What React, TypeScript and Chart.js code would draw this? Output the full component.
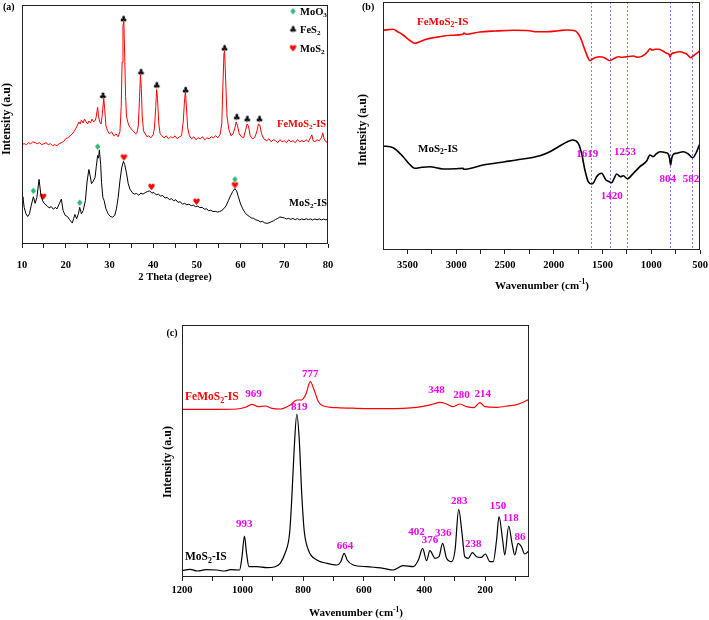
import React, { useEffect, useRef } from 'react';
import { Chart, registerables } from 'chart.js';
Chart.register(...registerables);

const SERIF = '"Liberation Serif", "Times New Roman", serif';
const RED = '#ff0000';
const MAGENTA = '#ee00ee';
const GREEN = '#2bb673';

// ---------------- Panel (a): XRD ----------------
const A_TICKS = [10, 15, 20, 25, 30, 35, 40, 45, 50, 55, 60, 65, 70, 75, 80];
const A_TICK_LABELS = [10, 20, 30, 40, 50, 60, 70, 80];
const A_FEMOS2: [number, number][] = [
  [10, 101], [10.5, 102], [11, 101], [11.5, 103], [12, 102], [12.5, 104], [13, 103], [13.5, 102], [14, 103], [14.5, 101],
  [15, 102], [15.5, 103], [16, 101], [16.5, 102], [17, 100], [17.5, 101], [18, 100], [18.5, 102], [19, 103], [19.5, 104],
  [20, 107], [20.5, 108], [21, 110], [21.5, 112], [22, 115], [22.5, 119], [23, 124], [23.3, 122], [23.6, 126], [24, 123],
  [24.3, 127], [24.7, 124], [25, 122], [25.3, 125], [25.7, 123], [26, 127], [26.4, 124], [26.8, 126], [27, 130], [27.3, 139],
  [27.5, 130], [27.8, 124], [28.1, 122], [28.4, 133], [28.7, 148], [28.9, 138], [29.2, 120], [29.6, 115], [30, 112], [30.5, 114],
  [31, 110], [31.5, 112], [32, 109], [32.4, 114], [32.7, 140], [32.9, 185], [33.1, 222], [33.3, 226], [33.5, 190], [33.7, 150],
  [33.9, 130], [34.2, 124], [34.5, 120], [34.8, 118], [35.2, 116], [35.6, 114], [36, 112], [36.3, 113], [36.6, 120], [36.9, 150],
  [37.1, 172], [37.3, 158], [37.5, 130], [37.8, 115], [38.2, 112], [38.6, 109], [39, 110], [39.5, 108], [40, 111], [40.3, 118],
  [40.6, 140], [40.8, 157], [41, 148], [41.3, 122], [41.6, 112], [42, 110], [42.5, 108], [43, 110], [43.5, 107], [44, 109],
  [44.5, 108], [45, 110], [45.5, 107], [46, 109], [46.5, 110], [46.9, 125], [47.2, 148], [47.4, 155], [47.6, 140], [47.9, 118],
  [48.3, 110], [48.8, 107], [49.3, 109], [49.8, 106], [50.3, 108], [50.8, 107], [51.3, 109], [51.8, 106], [52.3, 108], [52.8, 107],
  [53.3, 109], [53.8, 108], [54.3, 110], [54.8, 108], [55.3, 111], [55.7, 122], [55.95, 160], [56.2, 194], [56.35, 196], [56.6, 165],
  [56.9, 130], [57.3, 117], [57.8, 110], [58.3, 112], [58.7, 118], [59, 124], [59.3, 120], [59.7, 112], [60.2, 109], [60.7, 108],
  [61.1, 115], [61.5, 122], [61.8, 120], [62.2, 110], [62.7, 107], [63.2, 108], [63.7, 114], [64.1, 122], [64.4, 121], [64.8, 112],
  [65.3, 107], [66, 105], [66.5, 107], [67, 104], [67.5, 106], [68, 105], [68.5, 103], [69, 106], [69.5, 104], [70, 105],
  [70.5, 103], [71, 106], [71.5, 104], [72, 105], [72.5, 103], [73, 106], [73.5, 104], [74, 105], [74.5, 104], [75, 106],
  [75.5, 104], [76, 108], [76.3, 111], [76.6, 105], [77, 104], [77.5, 106], [78, 105], [78.5, 108], [78.8, 113], [79.1, 107],
  [79.5, 104], [80, 103],
];
const A_MOS2: [number, number][] = [
  [10, 45.7], [10.2, 48], [10.5, 37.3], [10.9, 30.7], [11.3, 28], [11.7, 30.7], [12.1, 39], [12.6, 48], [13, 41.3], [13.4, 47.3],
  [13.9, 65.7], [14.3, 50.7], [14.7, 44], [15.2, 40.7], [15.7, 39], [16.2, 36.7], [16.7, 38], [17.2, 35.3], [17.6, 37.3], [18, 35.7],
  [18.5, 40.7], [19, 45.7], [19.4, 34], [19.9, 29], [20.4, 28], [20.9, 24.7], [21.5, 21.3], [21.8, 25.7], [22.1, 30], [22.5, 25.7],
  [22.9, 30.7], [23.2, 37.3], [23.6, 30.7], [24, 34], [24.5, 44], [24.9, 64], [25.3, 75.7], [25.6, 69], [25.9, 61.3], [26.3, 64],
  [26.7, 67.3], [27, 79], [27.3, 90], [27.5, 87.3], [27.7, 95.7], [28, 80.7], [28.2, 62.3], [28.5, 47.3], [28.8, 44], [29.2, 35.7],
  [29.7, 30.7], [30.2, 28], [30.7, 27.3], [31.2, 29], [31.6, 35.7], [32, 47.3], [32.4, 64], [32.8, 77.3], [33.2, 84], [33.5, 80.7],
  [33.9, 72.3], [34.3, 61.3], [34.7, 55.7], [35.2, 52.3], [35.7, 50.7], [36.2, 51.3], [36.7, 49.7], [37.2, 51.7], [37.7, 50.7], [38.2, 52.3],
  [38.7, 53.3], [39.2, 54], [39.7, 51.7], [40.2, 52.3], [40.7, 50], [41.2, 50.7], [41.7, 48.7], [42.2, 49.3], [42.7, 46.7], [43.2, 47.3],
  [43.7, 45.3], [44.2, 46], [44.7, 44], [45.2, 45], [45.7, 42.3], [46.2, 43], [46.7, 40.5], [47.2, 41.3], [47.7, 40], [48.2, 40.5],
  [48.7, 39], [49.2, 39.5], [49.7, 38], [50.2, 38.5], [50.7, 37], [51.2, 37.3], [51.7, 35.5], [52.2, 35.7], [52.7, 34], [53.2, 34.3],
  [53.7, 33], [54.2, 33.2], [54.7, 32.5], [55.2, 33], [55.7, 34], [56.2, 36], [56.7, 39], [57.2, 44], [57.7, 49], [58.2, 53.3],
  [58.7, 56.3], [59.1, 54], [59.5, 48], [60, 40.7], [60.5, 35.7], [61, 32], [61.5, 29.5], [62, 28], [62.5, 26.5], [63, 26],
  [63.5, 24.5], [64, 24], [64.5, 22.5], [65, 23], [65.5, 21.5], [66, 21], [66.5, 21.5], [67, 22.5], [67.5, 23.5], [68, 25],
  [68.5, 26], [69, 27.5], [69.5, 27], [70, 26.5], [70.5, 25.5], [71, 26], [71.5, 25], [72, 26], [72.5, 24.7], [73, 25.8],
  [73.5, 24.5], [74, 25.5], [74.5, 24.6], [75, 25.7], [75.5, 24.8], [76, 25.5], [76.5, 24.4], [77, 25.4], [77.5, 24.6], [78, 25.5],
  [78.5, 24.5], [79, 25.3], [79.5, 24.6], [80, 25],
];
const A_MOO3_MARKS: [number, number][] = [[12.6, 53.3], [23.2, 41.3], [27.3, 98.3], [58.7, 65]];
const A_MOS2_MARKS: [number, number][] = [[14.8, 47.3], [33.3, 87.3], [39.6, 57.3], [49.9, 42.3], [58.7, 59]];
const A_FES2_MARKS: [number, number][] = [
  [28.5, 150], [33.2, 228], [37.2, 174], [40.8, 160.7], [47.4, 155.7], [56.3, 198.3], [59.1, 128.3], [61.5, 126.3], [64.3, 126.3],
];
const A_LEGEND = ['MoO_{3}', 'FeS_{2}', 'MoS_{2}'];

// ---------------- Panel (b): FTIR ----------------
const B_TICKS = [500, 750, 1000, 1250, 1500, 1750, 2000, 2250, 2500, 2750, 3000, 3250, 3500];
const B_TICK_LABELS = [500, 1000, 1500, 2000, 2500, 3000, 3500];
const B_FEMOS2: [number, number][] = [
  [3750, 219.7], [3646, 220.7], [3600, 218.3], [3544, 215], [3480, 210], [3425, 206.7], [3380, 208], [3305, 210.7], [3168, 213.3],
  [3050, 214.7], [2929, 215.7], [2920, 216.9], [2900, 215.7], [2757, 218], [2600, 219], [2415, 219.7], [2250, 219.3], [2176, 218.3],
  [2073, 218.3], [1950, 219.3], [1868, 220], [1783, 219.3], [1731, 213.3], [1680, 200], [1650, 192.7], [1629, 189.3], [1600, 191],
  [1577, 192.3], [1526, 193.3], [1480, 192.3], [1424, 189.3], [1390, 191], [1355, 192.7], [1338, 193.3], [1303, 192.7], [1252, 193.3],
  [1183, 194], [1133, 192.7], [1064, 195.7], [1030, 199.3], [1013, 201.3], [990, 200], [962, 200.7], [927, 200.7], [880, 199],
  [842, 196.7], [815, 195.3], [808, 192.7], [795, 195.7], [760, 197.3], [705, 198.3], [670, 197.3], [636, 196], [595, 192.3],
  [570, 194], [534, 196.7], [500, 199.3],
];
const B_MOS2: [number, number][] = [
  [3750, 104], [3646, 102.3], [3544, 93.3], [3480, 86], [3425, 81.7], [3350, 82.7], [3271, 83.3], [3134, 81], [3000, 81.3],
  [2929, 81.7], [2920, 80.7], [2724, 85], [2500, 88.3], [2382, 90], [2142, 94.3], [2039, 98.3], [1902, 106], [1806, 110],
  [1748, 106.7], [1714, 96.7], [1680, 80], [1646, 68.3], [1611, 66], [1585, 68.3], [1560, 73.3], [1509, 76.7], [1464, 70],
  [1430, 68.3], [1406, 67.3], [1380, 71.7], [1355, 76], [1314, 73.3], [1286, 74.3], [1245, 71.3], [1183, 76.7], [1116, 83.3],
  [1047, 89], [1013, 95], [979, 93.3], [951, 96], [910, 98.3], [849, 97.3], [825, 96], [812, 91.7], [801, 85], [790, 91.7],
  [770, 96], [740, 96.7], [671, 98.3], [620, 96], [575, 92.3], [534, 98.3], [507, 105], [500, 106],
];
const B_PEAKS = [1619, 1420, 1253, 804, 582];
const B_PEAK_LABELS = ['1619', '1253', '1420', '804', '582'];
const B_PEAK_LABEL_AT: [number, number][] = [[1656, 96], [1270, 98], [1406, 54], [831, 71], [592, 71]];

// ---------------- Panel (c): Raman ----------------
const C_TICKS = [1200, 1100, 1000, 900, 800, 700, 600, 500, 400, 300, 200, 100];
const C_TICK_LABELS = [1200, 1000, 800, 600, 400, 200];
const C_FEMOS2: [number, number][] = [
  [1200, 167.7], [1085, 167.7], [1019, 168], [991, 169.7], [969, 172.7], [948, 170.3], [926, 171], [903, 168.7], [876, 168],
  [843, 172], [821, 177], [805, 177], [790, 183.7], [777, 195.3], [764, 187], [750, 175.3], [733, 171], [689, 169.3],
  [623, 168.7], [536, 168.3], [470, 168.7], [426, 169.7], [393, 171.3], [371, 173], [349, 174.7], [327, 173], [305, 170.3],
  [283, 173], [261, 170.3], [237, 169.3], [217, 174.3], [201, 170.3], [162, 169.7], [118, 171.3], [96, 172.3], [74.5, 174.7],
  [55, 177.7],
];
const C_MOS2: [number, number][] = [
  [1200, 6.3], [1173, 7.7], [1150, 6], [1120, 7.3], [1085, 7], [1060, 6], [1040, 7.3], [1010, 7], [1002, 20.3], [994, 41],
  [987, 23.7], [979, 10.3], [953, 10.3], [920, 9.3], [893, 10.3], [876, 13.7], [860, 23.7], [845, 43.7], [838, 77], [830, 127],
  [821, 163], [813, 137], [805, 83.7], [797, 47], [783, 27], [755, 17], [722, 13.7], [689, 12], [676, 15.3], [665, 23.7],
  [655, 17], [635, 12], [590, 10.3], [536, 8.7], [503, 7], [470, 11.3], [437, 10.3], [420, 17], [406, 28.7], [393, 16.3],
  [382, 26.3], [365, 18.7], [352, 20.3], [340, 33.7], [327, 18.7], [310, 15.3], [299, 27], [287, 67.7], [276, 43.7], [267, 20.3],
  [255, 18.7], [242, 24.3], [228, 20.3], [212, 19.7], [199, 23], [184, 15.3], [173, 15.3], [162, 37], [154, 60.3], [142, 37],
  [135, 22], [122, 51], [111, 33.7], [102, 22], [91, 33.7], [80, 30.3], [69, 23], [55, 26.3],
];
const C_PEAK_LABELS = ['969', '777', '819', '348', '280', '214', '993', '664', '402', '376', '336', '283', '238', '150', '118', '86'];
const C_PEAK_LABEL_AT: [number, number][] = [
  [964, 182.7], [777, 203], [813, 170.3], [360, 187], [277.5, 182], [208, 182.7], [995, 53], [662, 31], [426, 44.7],
  [382, 37], [338, 43.7], [285, 76], [239, 33], [157, 71.3], [115, 58.7], [85, 40.3],
];

// ---------------- helpers ----------------
type Seg = { t: string; m: 0 | 1 | 2 };
function parseRich(s: string): Seg[] {
  const segs: Seg[] = [];
  const re = /([_^])\{([^}]*)\}/g;
  let last = 0;
  let m: RegExpExecArray | null;
  while ((m = re.exec(s))) {
    if (m.index > last) segs.push({ t: s.slice(last, m.index), m: 0 });
    segs.push({ t: m[2], m: m[1] === '_' ? 1 : 2 });
    last = re.lastIndex;
  }
  if (last < s.length) segs.push({ t: s.slice(last), m: 0 });
  return segs;
}
function drawRich(
  ctx: CanvasRenderingContext2D, s: string, x: number, y: number, size: number, color: string,
  align: 'left' | 'center' = 'left', rot = 0,
) {
  const segs = parseRich(s);
  ctx.save();
  ctx.translate(x, y);
  if (rot) ctx.rotate(rot);
  ctx.fillStyle = color;
  ctx.textBaseline = 'middle';
  ctx.textAlign = 'left';
  const fontFor = (m: number) => `bold ${m ? size * 0.68 : size}px ${SERIF}`;
  let w = 0;
  for (const sg of segs) { ctx.font = fontFor(sg.m); w += ctx.measureText(sg.t).width; }
  let cx = align === 'center' ? -w / 2 : 0;
  for (const sg of segs) {
    ctx.font = fontFor(sg.m);
    const dy = sg.m === 1 ? size * 0.32 : sg.m === 2 ? -size * 0.33 : 0;
    ctx.fillText(sg.t, cx, dy);
    cx += ctx.measureText(sg.t).width;
  }
  ctx.restore();
}
const glyphCache: Record<string, HTMLCanvasElement> = {};
function glyph(ch: string, color: string, px = 9): HTMLCanvasElement {
  const key = ch + color + px;
  if (glyphCache[key]) return glyphCache[key];
  const c = document.createElement('canvas');
  c.width = px + 2; c.height = px + 2;
  const g = c.getContext('2d')!;
  g.fillStyle = color;
  g.font = `${px}px "DejaVu Sans"`;
  g.textAlign = 'center';
  g.textBaseline = 'middle';
  g.fillText(ch, c.width / 2, c.height / 2 + 0.5);
  glyphCache[key] = c;
  return c;
}
const xy = (a: [number, number][]) => a.map(([x, y]) => ({ x, y }));

type AxisSpec = {
  padL: number; padR: number; padT: number; axisH: number; min: number; max: number; reverse: boolean;
  ticks: number[]; labels: number[]; tickPad: number; yMax: number;
};
function baseOptions(a: AxisSpec): any {
  return {
    animation: false, responsive: false, devicePixelRatio: 1, events: [],
    layout: { padding: { left: a.padL, right: a.padR, top: a.padT, bottom: 0 } },
    plugins: { legend: { display: false }, tooltip: { enabled: false } },
    scales: {
      x: {
        type: 'linear', min: a.min, max: a.max, reverse: a.reverse,
        afterBuildTicks: (s: any) => { s.ticks = a.ticks.map((v) => ({ value: v })); },
        afterFit: (s: any) => { s.height = a.axisH; },
        border: { display: false },
        grid: { drawOnChartArea: false, drawTicks: true, tickLength: 4, color: '#222', lineWidth: 1 },
        ticks: {
          autoSkip: false, maxRotation: 0, padding: a.tickPad, color: '#000',
          font: { family: SERIF, size: 10.5, weight: 'bold' },
          callback: (v: number) => (a.labels.includes(v) ? String(v) : ''),
        },
      },
      y: { type: 'linear', display: false, min: 0, max: a.yMax },
    },
  };
}
function frame(chart: any) {
  const { ctx, chartArea: c } = chart;
  ctx.save();
  ctx.strokeStyle = '#222';
  ctx.lineWidth = 1;
  ctx.strokeRect(Math.round(c.left) + 0.5, Math.round(c.top) + 0.5, Math.round(c.right - c.left) - 1, Math.round(c.bottom - c.top) - 1);
  ctx.restore();
}
const lineDs = (data: [number, number][], color: string, width: number, smooth: boolean) => ({
  type: 'line', data: xy(data), borderColor: color, borderWidth: width, pointRadius: 0,
  tension: 0, cubicInterpolationMode: smooth ? 'monotone' : 'default', fill: false,
});

function buildA(): any {
  const dec = {
    id: 'decorA',
    afterDraw(chart: any) {
      const ctx = chart.ctx;
      frame(chart);
      drawRich(ctx, '(a)', 3, 7.5, 10, '#000');
      drawRich(ctx, 'Intensity (a.u)', 7, 119, 12, '#000', 'center', -Math.PI / 2);
      drawRich(ctx, '2 Theta (degree)', 175, 277, 10.5, '#000', 'center');
      drawRich(ctx, 'FeMoS_{2}-IS', 277, 124, 10.5, RED);
      drawRich(ctx, 'MoS_{2}-IS', 289, 203, 10.5, '#000');
      const marks = [glyph('♦', GREEN, 9), glyph('♣', '#000', 9), glyph('♥', RED, 9)];
      const ys = [12, 30, 49];
      A_LEGEND.forEach((t, i) => {
        const g = marks[i];
        ctx.drawImage(g, 293 - g.width / 2, ys[i] - g.height / 2);
        drawRich(ctx, t, 300, ys[i], 10.5, '#000');
      });
    },
  };
  return {
    type: 'line',
    data: {
      datasets: [
        lineDs(A_FEMOS2, RED, 1, false),
        lineDs(A_MOS2, '#000', 1, false),
        { type: 'scatter', data: xy(A_MOO3_MARKS), pointStyle: glyph('♦', GREEN, 9), pointRadius: 4 },
        { type: 'scatter', data: xy(A_MOS2_MARKS), pointStyle: glyph('♥', RED, 9), pointRadius: 4 },
        { type: 'scatter', data: xy(A_FES2_MARKS), pointStyle: glyph('♣', '#000', 9), pointRadius: 4 },
      ],
    },
    options: baseOptions({ padL: 22, padR: 22, padT: 1, axisH: 56, min: 10, max: 80, reverse: false, ticks: A_TICKS, labels: A_TICK_LABELS, tickPad: 11, yMax: 243 }),
    plugins: [dec],
  };
}

function buildB(): any {
  const dec = {
    id: 'decorB',
    beforeDatasetsDraw(chart: any) {
      const { ctx, chartArea: c, scales } = chart;
      ctx.save();
      ctx.strokeStyle = '#7f7fff';
      ctx.lineWidth = 1;
      ctx.setLineDash([2, 2]);
      B_PEAKS.forEach((p) => {
        const x = Math.round(scales.x.getPixelForValue(p)) + 0.5;
        ctx.beginPath(); ctx.moveTo(x, c.top); ctx.lineTo(x, c.bottom); ctx.stroke();
      });
      ctx.restore();
    },
    afterDraw(chart: any) {
      const { ctx, scales } = chart;
      frame(chart);
      drawRich(ctx, '(b)', 12, 7.5, 10, '#000');
      drawRich(ctx, 'Intensity (a.u)', 13, 130, 12, '#000', 'center', -Math.PI / 2);
      drawRich(ctx, 'Wavenumber (cm^{-1})', 192, 286, 11, '#000', 'center');
      drawRich(ctx, 'FeMoS_{2}-IS', 67, 21.7, 11, RED);
      drawRich(ctx, 'MoS_{2}-IS', 68, 149, 11, '#000');
      B_PEAK_LABELS.forEach((t, i) => {
        const [x, y] = B_PEAK_LABEL_AT[i];
        drawRich(ctx, t, scales.x.getPixelForValue(x), scales.y.getPixelForValue(y), 11, MAGENTA, 'center');
      });
    },
  };
  return {
    type: 'line',
    data: { datasets: [lineDs(B_FEMOS2, RED, 1.6, true), lineDs(B_MOS2, '#000', 1.6, true)] },
    options: baseOptions({ padL: 33, padR: 9, padT: 2, axisH: 50, min: 500, max: 3750, reverse: true, ticks: B_TICKS, labels: B_TICK_LABELS, tickPad: 5, yMax: 248 }),
    plugins: [dec],
  };
}

function buildC(): any {
  const dec = {
    id: 'decorC',
    afterDraw(chart: any) {
      const { ctx, scales } = chart;
      frame(chart);
      drawRich(ctx, '(c)', 16.5, 33.3, 10, '#000');
      drawRich(ctx, 'Intensity (a.u)', 18, 162, 12, '#000', 'center', -Math.PI / 2);
      drawRich(ctx, 'Wavenumber (cm^{-1})', 206, 313.3, 11, '#000', 'center');
      drawRich(ctx, 'FeMoS_{2}-IS', 35, 97, 11.5, RED);
      drawRich(ctx, 'MoS_{2}-IS', 35, 257, 11.5, '#000');
      C_PEAK_LABELS.forEach((t, i) => {
        const [x, y] = C_PEAK_LABEL_AT[i];
        drawRich(ctx, t, scales.x.getPixelForValue(x), scales.y.getPixelForValue(y), 11, MAGENTA, 'center');
      });
    },
  };
  return {
    type: 'line',
    data: { datasets: [lineDs(C_FEMOS2, RED, 1.2, true), lineDs(C_MOS2, '#000', 1.2, true)] },
    options: baseOptions({ padL: 32, padR: 21, padT: 25, axisH: 43, min: 55, max: 1200, reverse: true, ticks: C_TICKS, labels: C_TICK_LABELS, tickPad: 3, yMax: 252 }),
    plugins: [dec],
  };
}

function Panel({ left, top, width, height, build }: { left: number; top: number; width: number; height: number; build: () => any }) {
  const ref = useRef<HTMLCanvasElement>(null);
  useEffect(() => {
    const chart = new Chart(ref.current as HTMLCanvasElement, build());
    return () => chart.destroy();
  }, []);
  return <canvas ref={ref} width={width} height={height} style={{ position: 'absolute', left, top, width, height }} />;
}

export default function App() {
  return (
    <div style={{ position: 'fixed', left: 0, top: 0, width: 709, height: 620, background: '#fff', overflow: 'hidden' }}>
      <Panel left={0} top={0} width={350} height={300} build={buildA} />
      <Panel left={350} top={0} width={359} height={300} build={buildB} />
      <Panel left={150} top={300} width={400} height={320} build={buildC} />
    </div>
  );
}
